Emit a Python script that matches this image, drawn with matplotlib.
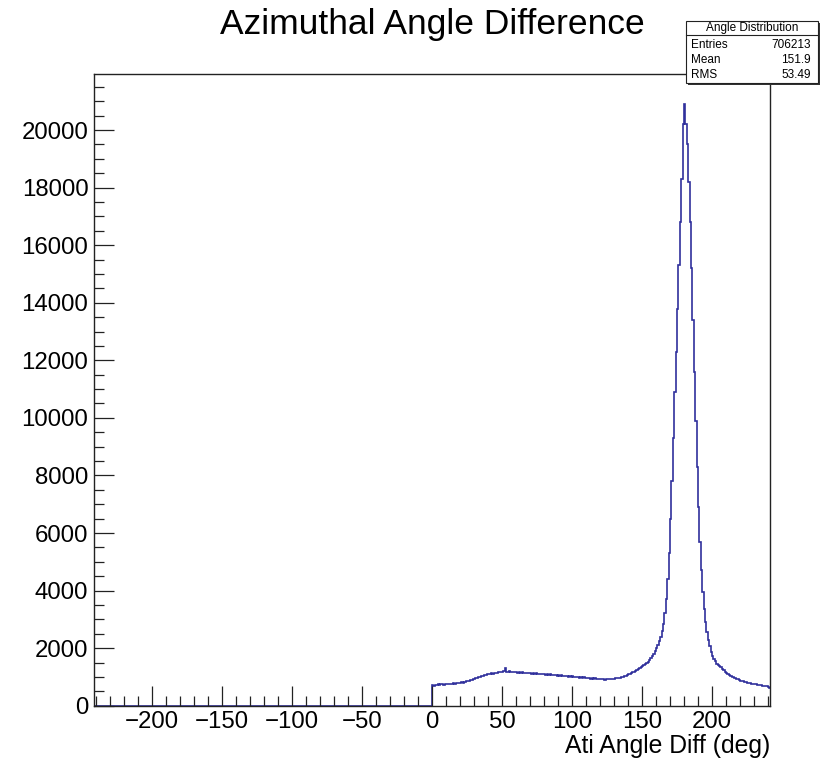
import numpy as np
import matplotlib
matplotlib.use("Agg")
import matplotlib.pyplot as plt
from matplotlib.patches import Rectangle

plt.rcParams['font.family'] = ['Liberation Sans', 'DejaVu Sans']

# ---- data (1-degree bins starting at 0 deg) ----
bin_start = 0
bin_width = 1
counts = [
    720, 700, 735, 712, 741, 722, 738, 751, 729, 746,
    762, 744, 771, 753, 768, 783, 766, 792, 774, 797,
    803, 818, 806, 832, 845, 858, 874, 883, 904, 918,
    942, 958, 973, 994, 1008, 1033, 1046, 1062, 1078, 1084,
    1102, 1113, 1127, 1118, 1143, 1152, 1141, 1163, 1172, 1161,
    1183, 1204, 1312, 1188, 1176, 1189, 1168, 1184, 1157, 1178,
    1166, 1149, 1172, 1143, 1161, 1138, 1152, 1129, 1147, 1124,
    1138, 1117, 1133, 1108, 1127, 1102, 1118, 1093, 1112, 1088,
    1103, 1082, 1097, 1068, 1088, 1063, 1078, 1052, 1072, 1043,
    1062, 1038, 1053, 1027, 1047, 1018, 1037, 1012, 1028, 1003,
    1017, 992, 1012, 983, 1002, 972, 993, 962, 983, 953,
    972, 947, 963, 938, 957, 928, 948, 922, 938, 918,
    933, 912, 927, 908, 922, 913, 928, 931, 918, 937,
    943, 952, 947, 962, 978, 986, 1003, 1016, 1038, 1057,
    1088, 1106, 1132, 1158, 1186, 1214, 1242, 1268, 1302, 1334,
    1368, 1402, 1441, 1483, 1532, 1586, 1651, 1722, 1803, 1892,
    1993, 2104, 2232, 2398, 2603, 2852, 3204, 3702, 4403, 5304,
    6502, 7803, 9298, 10902, 12304, 13798, 15302, 16804, 18297, 20203,
    20902, 20198, 19503, 18196, 16803, 15198, 13402, 11597, 9903, 8298,
    6903, 5698, 4702, 3948, 3352, 2903, 2548, 2283, 2062, 1878,
    1743, 1628, 1541, 1463, 1402, 1378, 1338, 1281, 1232, 1188,
    1152, 1108, 1072, 1038, 1006, 982, 953, 937, 913, 897,
    874, 862, 843, 832, 813, 806, 788, 782, 768, 762,
    748, 743, 728, 722, 713, 707, 698, 692, 679, 672,
    648, 622,
]
x_range = (-241.5, 241.5)
x_major = [-200, -150, -100, -50, 0, 50, 100, 150, 200]
y_major = [0, 2000, 4000, 6000, 8000, 10000, 12000, 14000, 16000, 18000, 20000]
title = "Azimuthal Angle Difference"
xlabel = "Ati Angle Diff (deg)"
stats_title = "Angle Distribution"
stats_rows = [("Entries", "706213"), ("Mean", "151.9"), ("RMS", "53.49")]

# ---- figure ----
W, H = 829, 764
fig = plt.figure(figsize=(W / 100, H / 100), dpi=100)
L, R, T, B = 94, 770, 74, 705.7
ax = fig.add_axes([L / W, 1 - B / H, (R - L) / W, (B - T) / H])

vals = np.array(counts, dtype=float)
edges = bin_start + bin_width * np.arange(len(vals) + 1)
all_vals = np.concatenate([[0.0], vals])
all_edges = np.concatenate([[x_range[0]], edges])
ax.stairs(all_vals, all_edges, color='#30309c', linewidth=1.2, baseline=None)

ymax = vals.max() * 1.05
ax.set_xlim(*x_range)
ax.set_ylim(0, ymax)

ax.set_xticks(x_major)
ax.set_xticks(np.arange(-240, 241, 10), minor=True)
ax.set_yticks(y_major)
ax.set_yticks(np.arange(0, ymax, 500), minor=True)
ax.tick_params(which='both', direction='in', top=False, right=False,
               width=0.9, color='#222222', labelsize=17.3, pad=4)
ax.tick_params(which='major', length=14.2)
ax.tick_params(which='minor', length=7.2)
for s in ax.spines.values():
    s.set_linewidth(1.0)
    s.set_color('#222222')

fig.text(432 / W, 1 - 34 / H, title, ha='center', va='baseline', fontsize=25.5)
fig.text(770 / W, 1 - 753 / H, xlabel, ha='right', va='baseline', fontsize=17.8)

# ---- stats box ----
bx0, bx1, by0, by1 = 686, 818, 21, 83
sep = 35
def fx(px):
    return px / W
def fy(py):
    return 1 - py / H
fig.patches.append(Rectangle((fx(bx0 + 2), fy(by1 + 2)), fx(bx1 - bx0), (by1 - by0) / H,
                             transform=fig.transFigure, facecolor='#333333', edgecolor='none'))
fig.patches.append(Rectangle((fx(bx0), fy(by1)), fx(bx1 - bx0), (by1 - by0) / H,
                             transform=fig.transFigure, facecolor='white', edgecolor='#222222', linewidth=0.8))
fig.add_artist(plt.Line2D([fx(bx0), fx(bx1)], [fy(sep), fy(sep)], transform=fig.transFigure,
                          color='#222222', linewidth=0.8))
fig.text(fx((bx0 + bx1) / 2), fy(28), stats_title, ha='center', va='center', fontsize=8.5)
row_y = [45, 60, 74.5]
for (k, v), yy in zip(stats_rows, row_y):
    fig.text(fx(bx0 + 5), fy(yy), k, ha='left', va='center', fontsize=8.5)
    fig.text(fx(bx1 - 7), fy(yy), v, ha='right', va='center', fontsize=8.5)

fig.savefig('out.png', dpi=100)
